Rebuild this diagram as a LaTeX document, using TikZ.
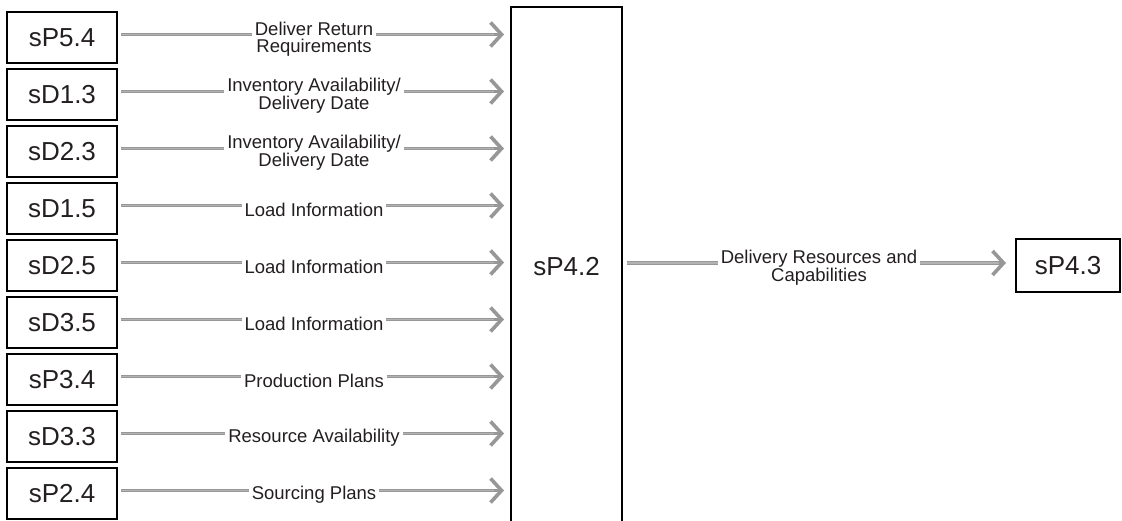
\documentclass[tikz,border=0pt]{standalone}
\usepackage{fontspec}
\setmainfont{Liberation Sans}
\usetikzlibrary{arrows.meta}
\definecolor{txt}{HTML}{231F20}
\definecolor{ln}{HTML}{979797}
\definecolor{lnhi}{HTML}{B3B3B3}
\begin{document}
\begin{tikzpicture}[x=1pt,y=-1pt,
  box/.style={draw=black, line width=2pt, minimum width=110pt, minimum height=51pt,
    inner sep=0pt, font=\fontsize{26}{30}\selectfont, text=txt},
  flow/.style={draw=ln, line width=3.6pt, -{Straight Barb[length=11pt,width=24pt]},
    postaction={draw=lnhi, line width=1.2pt, arrows=-, shorten >=16pt}},
  lab/.style={fill=white, inner xsep=3pt, inner ysep=0pt, align=center,
    font=\fontsize{18.5}{17}\selectfont, text=txt, yshift=-4.5pt}]
\useasboundingbox (0,0) rectangle (1122,520);
\fill[white] (0,0) rectangle (1122,520);
% left boxes
\node[box] (p54) at (62,37.5)  {sP5.4};
\node[box] (d13) at (62,94.5)  {sD1.3};
\node[box] (d23) at (62,151.5) {sD2.3};
\node[box] (d15) at (62,208.5) {sD1.5};
\node[box] (d25) at (62,265.5) {sD2.5};
\node[box] (d35) at (62,322.5) {sD3.5};
\node[box] (p34) at (62,379.5) {sP3.4};
\node[box] (d33) at (62,436.5) {sD3.3};
\node[box] (p24) at (62,493.5) {sP2.4};
% central and right boxes
\node[box, minimum width=111pt, minimum height=519pt] (p42) at (566.5,266.5) {sP4.2};
\node[box, minimum width=104pt, minimum height=53pt] (p43) at (1068,265.5) {sP4.3};
% left connectors
\foreach \n/\t in {p54/{Deliver Return\\Requirements},
                   d13/{Inventory Availability/\\Delivery Date},
                   d23/{Inventory Availability/\\Delivery Date},
                   d15/{Load Information},
                   d25/{Load Information},
                   d35/{Load Information},
                   p34/{Production Plans},
                   d33/{Resource Availability},
                   p24/{Sourcing Plans}}{
  \draw[flow, shorten <=3pt, shorten >=6pt] ([yshift=3pt]\n.east) -- node[lab]{\t} ([yshift=3pt]\n.east -| p42.west);
}
% right connector
\draw[flow, shorten <=4pt, shorten >=9pt] ([yshift=2.5pt]p43.west -| p42.east) -- node[lab]{Delivery Resources and\\Capabilities} ([yshift=2.5pt]p43.west);
\end{tikzpicture}
\end{document}
